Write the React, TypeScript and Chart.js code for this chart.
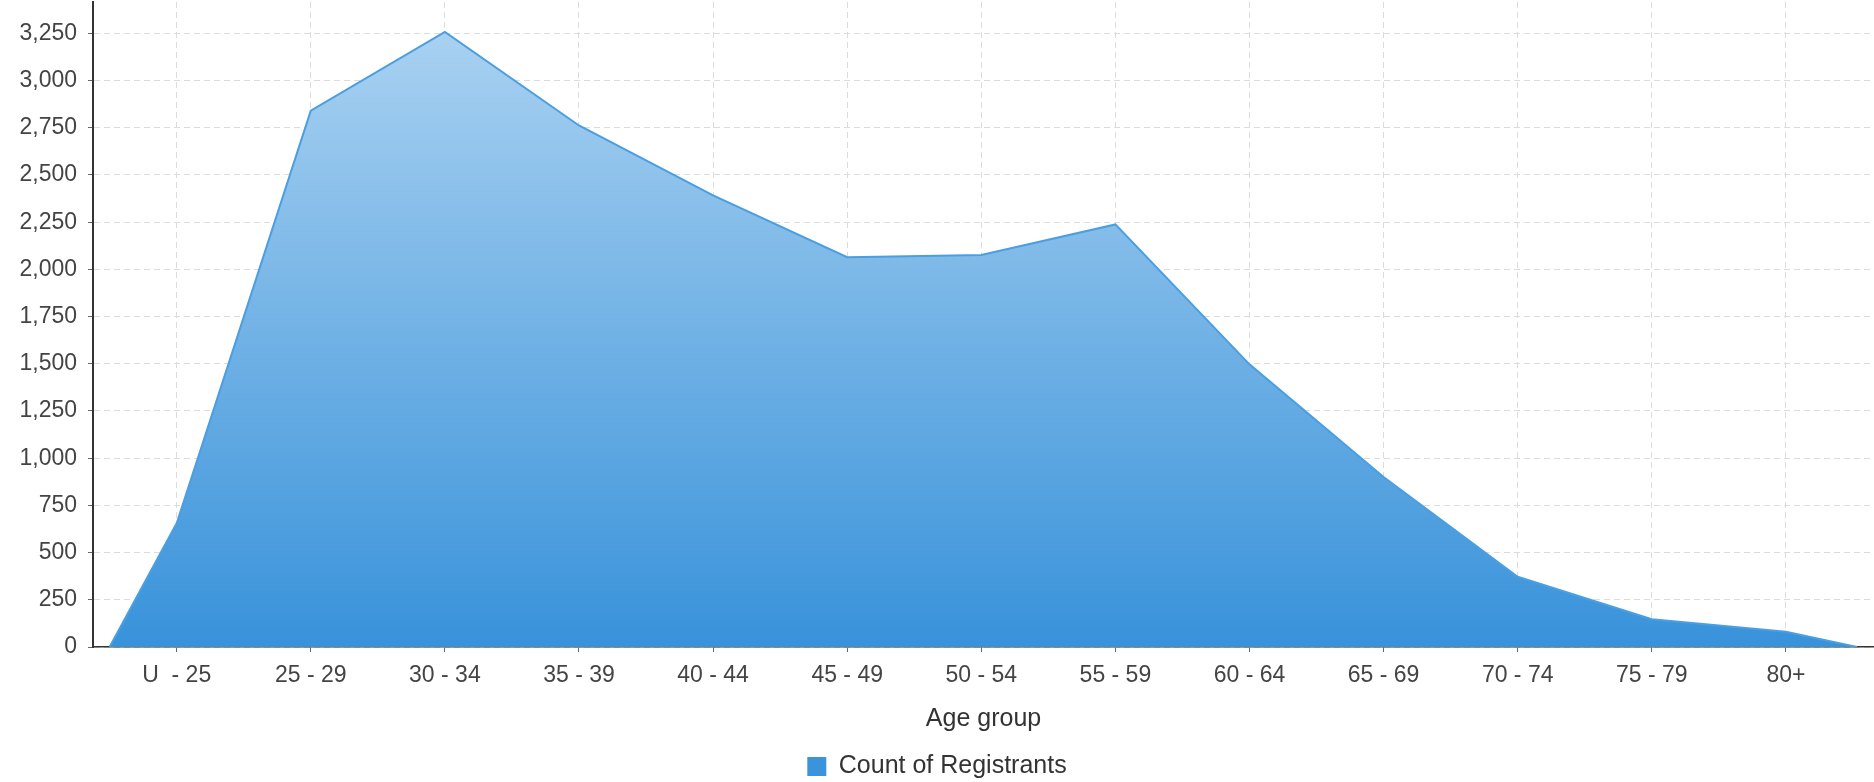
import React, { useEffect, useRef } from "react";
import { Chart, registerables } from "chart.js";

Chart.register(...registerables);

const categories = [
  "U  - 25", "25 - 29", "30 - 34", "35 - 39", "40 - 44", "45 - 49", "50 - 54",
  "55 - 59", "60 - 64", "65 - 69", "70 - 74", "75 - 79", "80+",
];
const registrants = [655, 2840, 3258, 2762, 2392, 2064, 2076, 2238, 1497, 900, 372, 147, 81];
const seriesName = "Count of Registrants";
const xTitle = "Age group";
const yMax = 3416;
const yStep = 250;

const FONT = "'Liberation Sans', Arial, sans-serif";
const BOTTOM_PAD = -7;

export default function App() {
  const ref = useRef<HTMLCanvasElement | null>(null);

  useEffect(() => {
    if (!ref.current) return;
    const points = [
      { x: -0.5, y: 0 },
      ...registrants.map((v, i) => ({ x: i, y: v })),
      { x: categories.length - 0.47, y: 0 },
    ];
    const chart = new Chart(ref.current, {
      type: "line",
      data: {
        datasets: [
          {
            label: seriesName,
            data: points,
            borderColor: "#4a9ee2",
            borderWidth: 2,
            pointRadius: 0,
            tension: 0,
            fill: "origin",
            backgroundColor: (ctx: any) => {
              const ca = ctx.chart.chartArea;
              if (!ca) return "#3a94db";
              const g = ctx.chart.ctx.createLinearGradient(0, ca.top, 0, ca.bottom);
              g.addColorStop(0, "#aed4f2");
              g.addColorStop(1, "#3892da");
              return g;
            },
          },
        ],
      },
      options: {
        responsive: false,
        animation: false,
        layout: { padding: { left: 0, right: 0, top: 2, bottom: BOTTOM_PAD } },
        plugins: {
          tooltip: { enabled: false },
          legend: {
            display: true,
            position: "bottom",
            labels: {
              boxWidth: 19,
              boxHeight: 19,
              padding: 10,
              color: "#333",
              font: { family: FONT, size: 25 },
              generateLabels: () => [
                {
                  text: seriesName,
                  fillStyle: "#3a94db",
                  strokeStyle: "#3a94db",
                  fontColor: "#333",
                  lineWidth: 0,
                  datasetIndex: 0,
                  hidden: false,
                } as any,
              ],
            },
          },
        },
        scales: {
          x: {
            type: "linear",
            min: -0.624,
            max: 12.657,
            afterFit: (scale: any) => {
              const lh = scale.chart.legend ? scale.chart.legend.height : 45;
              scale.height = 782 - BOTTOM_PAD - 647 - lh;
              scale.paddingLeft = 0;
              scale.paddingRight = 0;
            },
            ticks: {
              stepSize: 1,
              includeBounds: false,
              autoSkip: false,
              maxRotation: 0,
              padding: 10,
              color: "#444",
              font: { family: FONT, size: 23 },
              callback: (v: any) => {
                const i = Math.round(Number(v));
                return Number.isInteger(Number(v)) && categories[i] !== undefined ? categories[i] : "";
              },
            },
            grid: {
              color: "#dcdcdc",
              lineWidth: 1,
              drawTicks: true,
              tickLength: 5,
              tickColor: "#666",
              tickWidth: 1,
            },
            border: { display: true, color: "#333", width: 1.5, dash: [6, 4] },
            title: {
              display: true,
              text: xTitle,
              color: "#333",
              font: { family: FONT, size: 25 },
              padding: { top: 0, bottom: 10 },
            },
          },
          y: {
            type: "linear",
            min: 0,
            max: yMax,
            afterFit: (scale: any) => {
              scale.width = 93;
              scale.paddingTop = 0;
              scale.paddingBottom = 0;
            },
            ticks: {
              stepSize: yStep,
              includeBounds: false,
              padding: 11,
              color: "#444",
              font: { family: FONT, size: 23 },
              callback: (v: any) => Number(v).toLocaleString("en-US"),
            },
            grid: {
              color: "#dcdcdc",
              lineWidth: 1,
              drawTicks: true,
              tickLength: 5,
              tickColor: "#666",
              tickWidth: 1,
            },
            border: { display: true, color: "#333", width: 2, dash: [6, 4] },
          },
        },
      },
    });
    return () => chart.destroy();
  }, []);

  return (
    <div style={{ position: "absolute", left: 0, top: 0, width: 1874, height: 782, background: "#fff" }}>
      <canvas ref={ref} width={1874} height={782} style={{ display: "block" }} />
    </div>
  );
}
